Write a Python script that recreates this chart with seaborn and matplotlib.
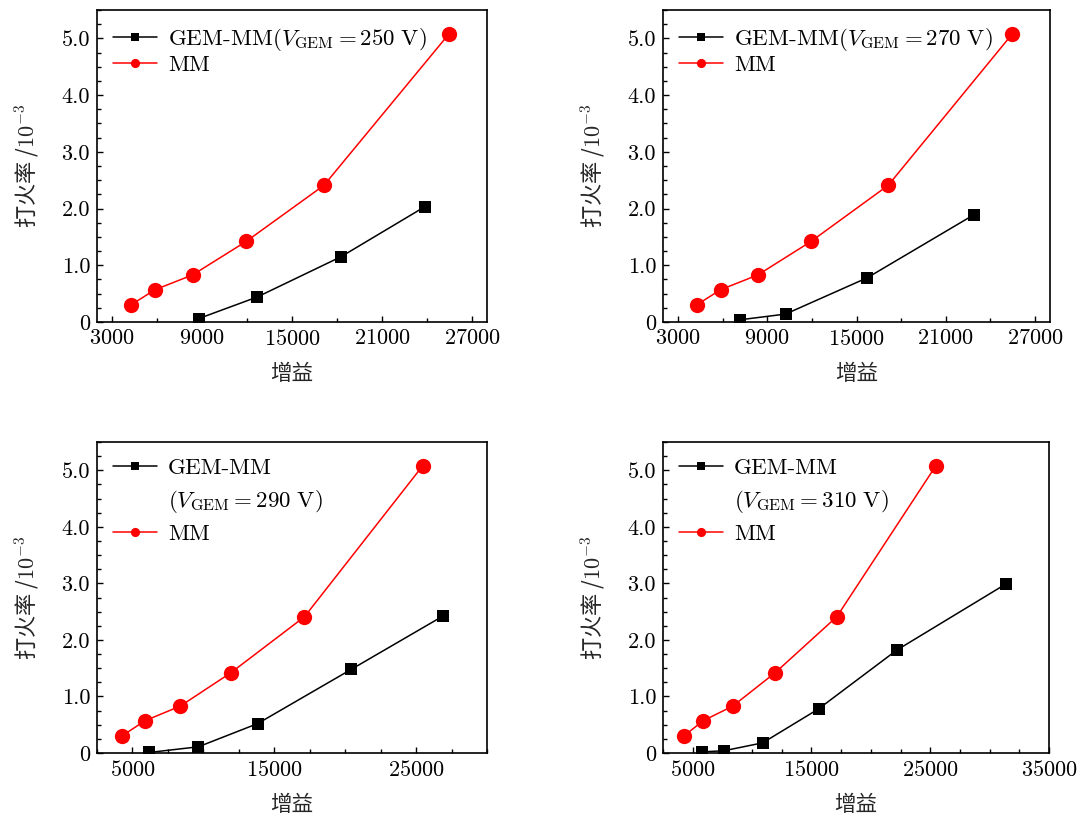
import numpy as np
import pandas as pd
import matplotlib
matplotlib.use("Agg")
import matplotlib.pyplot as plt
import seaborn as sns
from matplotlib.lines import Line2D
from matplotlib.ticker import MultipleLocator, FixedLocator, FuncFormatter

# ---- data ----
mm_gain = [4250, 5870, 8370, 11940, 17130, 25470]
mm_rate = [0.30, 0.57, 0.83, 1.42, 2.41, 5.08]

gem250_gain = [8770, 12670, 18260, 23840]
gem250_rate = [0.06, 0.44, 1.15, 2.03]

gem270_gain = [7190, 10230, 15720, 22880]
gem270_rate = [0.04, 0.14, 0.78, 1.89]

gem290_gain = [6170, 9640, 13820, 20430, 26880]
gem290_rate = [0.01, 0.11, 0.52, 1.48, 2.42]

gem310_gain = [5750, 7620, 10890, 15590, 22180, 31370]
gem310_rate = [0.02, 0.04, 0.18, 0.78, 1.82, 2.99]

# first line of GEM label, optional second line
gem_labels = [
    r"GEM-MM$(V_{\rm GEM}=250\ {\rm V})$",
    r"GEM-MM$(V_{\rm GEM}=270\ {\rm V})$",
    "GEM-MM",
    "GEM-MM",
]
gem_labels2 = [None, None, r"$(V_{\rm GEM}=290\ {\rm V})$", r"$(V_{\rm GEM}=310\ {\rm V})$"]
mm_label = "MM"
xlabel = "增益"
ylabel = "打火率 /$10^{-3}$"
ytick_vals = [0, 1, 2, 3, 4, 5]
ytick_labels = ["0", "1.0", "2.0", "3.0", "4.0", "5.0"]

sns.set_style("ticks")
plt.rcParams["font.family"] = ["serif"]
plt.rcParams["font.serif"] = ["cmr10", "DejaVu Serif"]
plt.rcParams["mathtext.fontset"] = "cm"
plt.rcParams["axes.formatter.use_mathtext"] = True
plt.rcParams["axes.unicode_minus"] = False

fig = plt.figure(figsize=(10.88, 8.14), dpi=100)

positions = [
    (0.0892, 0.6044, 0.3584, 0.3833),
    (0.6094, 0.6044, 0.3557, 0.3833),
    (0.0892, 0.0749, 0.3584, 0.3821),
    (0.6094, 0.0749, 0.3548, 0.3821),
]
gem_data = [(gem250_gain, gem250_rate), (gem270_gain, gem270_rate),
            (gem290_gain, gem290_rate), (gem310_gain, gem310_rate)]
xlims = [(2000, 28000), (2000, 28000), (2500, 30000), (2500, 35000)]
xmajor = [[3000, 9000, 15000, 21000, 27000], [3000, 9000, 15000, 21000, 27000],
          [5000, 15000, 25000], [5000, 15000, 25000, 35000]]
xminor = [3000, 3000, 2500, 2500]
lspacing = [0.1, 0.1, 0.42, 0.42]

cjk = ["Noto Sans CJK SC", "DejaVu Sans"]

for i in range(4):
    ax = fig.add_axes(positions[i])
    gx, gy = gem_data[i]
    sns.lineplot(x=gx, y=gy, ax=ax, color="black", marker="s", markersize=9,
                 markeredgewidth=0, linewidth=1.1, label=gem_labels[i], sort=False)
    sns.lineplot(x=mm_gain, y=mm_rate, ax=ax, color="#ff0000", marker="o", markersize=11,
                 markeredgewidth=0, linewidth=1.1, label=mm_label, sort=False)
    ax.set_xlim(*xlims[i])
    ax.set_ylim(0, 5.5)
    ax.xaxis.set_major_locator(FixedLocator(xmajor[i]))
    ax.xaxis.set_minor_locator(MultipleLocator(xminor[i]))
    ax.yaxis.set_major_locator(FixedLocator(ytick_vals))
    ax.yaxis.set_major_formatter(FuncFormatter(lambda v, p: ytick_labels[int(round(v))]))
    ax.yaxis.set_minor_locator(MultipleLocator(0.25))
    ax.tick_params(axis="both", which="both", direction="in", top=False, right=False,
                   labelsize=16, width=1.0, color="black", labelcolor="black")
    ax.tick_params(axis="both", which="major", length=4, pad=5)
    ax.tick_params(axis="both", which="minor", length=3)
    for s in ax.spines.values():
        s.set_linewidth(1.2)
        s.set_color("black")
    ax.set_xlabel(xlabel, family=cjk, fontsize=15.5, labelpad=10)
    ax.set_ylabel(ylabel, family=cjk, fontsize=16, labelpad=14)

    handles, labels = ax.get_legend_handles_labels()
    if gem_labels2[i] is not None:
        blank = Line2D([], [], color="none", linestyle="none", marker=None)
        handles = [handles[0], blank, handles[1]]
        labels = [labels[0], gem_labels2[i], labels[1]]
    leg = ax.legend(handles, labels, loc="upper left", frameon=False, fontsize=16.5,
                    markerscale=0.6, handlelength=1.9, handletextpad=0.5,
                    borderaxespad=0.3, labelspacing=lspacing[i])
    for t in leg.get_texts():
        t.set_color("black")

fig.savefig("out.png", dpi=100)
